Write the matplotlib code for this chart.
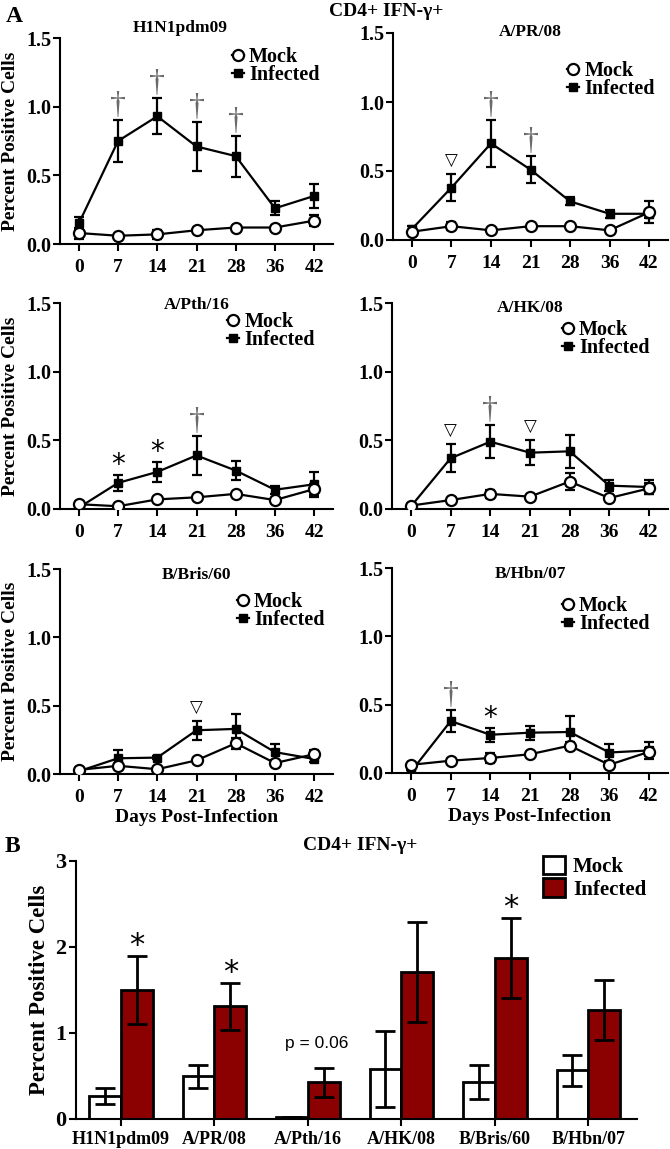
import matplotlib
matplotlib.use("Agg")
import matplotlib.pyplot as plt
from matplotlib.lines import Line2D
from matplotlib.patches import Patch
import numpy as np

# ---------------- data ----------------
days = ['0', '7', '14', '21', '28', '36', '42']
panel_names = ['H1N1pdm09', 'A/PR/08', 'A/Pth/16', 'A/HK/08', 'B/Bris/60', 'B/Hbn/07']

infected = [
    [0.15, 0.75, 0.93, 0.71, 0.64, 0.26, 0.35],
    [0.08, 0.38, 0.70, 0.51, 0.28, 0.19, 0.19],
    [0.01, 0.19, 0.27, 0.39, 0.28, 0.14, 0.18],
    [0.02, 0.37, 0.49, 0.41, 0.42, 0.17, 0.16],
    [0.02, 0.115, 0.12, 0.32, 0.33, 0.16, 0.11],
    [0.01, 0.38, 0.28, 0.295, 0.30, 0.15, 0.165],
]
infected_err = [
    [0.05, 0.15, 0.13, 0.18, 0.15, 0.05, 0.09],
    [0.02, 0.10, 0.17, 0.10, 0.03, 0.03, 0.03],
    [0.01, 0.06, 0.07, 0.14, 0.07, 0.03, 0.09],
    [0.01, 0.10, 0.12, 0.09, 0.12, 0.04, 0.05],
    [0.01, 0.06, 0.01, 0.07, 0.11, 0.06, 0.02],
    [0.01, 0.08, 0.05, 0.05, 0.12, 0.06, 0.06],
]
mock = [
    [0.08, 0.06, 0.07, 0.10, 0.12, 0.12, 0.17],
    [0.06, 0.10, 0.07, 0.10, 0.10, 0.07, 0.20],
    [0.035, 0.02, 0.07, 0.085, 0.11, 0.065, 0.145],
    [0.025, 0.065, 0.11, 0.09, 0.20, 0.08, 0.15],
    [0.03, 0.06, 0.035, 0.10, 0.225, 0.08, 0.145],
    [0.06, 0.09, 0.11, 0.137, 0.20, 0.06, 0.155],
]
mock_err = [
    [0.04, 0.01, 0.03, 0.01, 0.01, 0.01, 0.04],
    [0.01, 0.03, 0.01, 0.01, 0.01, 0.01, 0.08],
    [0.01, 0.01, 0.01, 0.01, 0.01, 0.01, 0.04],
    [0.01, 0.01, 0.03, 0.01, 0.06, 0.01, 0.04],
    [0.01, 0.01, 0.01, 0.01, 0.04, 0.01, 0.03],
    [0.01, 0.01, 0.04, 0.01, 0.03, 0.01, 0.03],
]
# significance marks per panel: day index -> symbol
sig_marks = [
    {1: '†', 2: '†', 3: '†', 4: '†'},
    {1: '▽', 2: '†', 3: '†'},
    {1: '*', 2: '*', 3: '†'},
    {1: '▽', 2: '†', 3: '▽'},
    {3: '▽'},
    {1: '†', 2: '*'},
]

strains = ['H1N1pdm09', 'A/PR/08', 'A/Pth/16', 'A/HK/08', 'B/Bris/60', 'B/Hbn/07']
mock_total = [0.27, 0.495, 0.025, 0.58, 0.43, 0.565]
mock_total_err = [0.09, 0.13, 0.0, 0.445, 0.20, 0.18]
inf_total = [1.50, 1.31, 0.425, 1.71, 1.875, 1.265]
inf_total_err = [0.40, 0.27, 0.17, 0.58, 0.465, 0.35]
bar_marks = ['*', '*', 'p = 0.06', '', '*', '']

# ---------------- style ----------------
SERIF = 'Liberation Serif'
plt.rcParams['font.family'] = [SERIF, 'DejaVu Serif']
plt.rcParams['font.weight'] = 'bold'
W, H = 670, 1149
fig = plt.figure(figsize=(W / 100, H / 100), dpi=100)


def rect(l, r, b, t):
    return [l / W, 1 - b / H, (r - l) / W, (b - t) / H]


line_rects = [rect(60, 333, 244, 38), rect(393, 668, 240, 33),
              rect(60, 333, 509, 303), rect(392, 668, 509, 303),
              rect(60, 333, 774, 569), rect(392, 668, 773, 568)]
title_pos = [(0.44, 1.05), (0.5, 1.005), (0.5, 0.99), (0.5, 0.976), (0.5, 0.97), (0.5, 0.97)]
legend_anchor = [(0.630, 0.866), (0.633, 0.773), (0.612, 0.866),
                 (0.616, 0.825), (0.648, 0.795), (0.616, 0.770)]

x = np.arange(len(days))
for i, name in enumerate(panel_names):
    ax = fig.add_axes(line_rects[i])
    inf = np.array(infected[i]); ie = np.array(infected_err[i])
    mo = np.array(mock[i]); me = np.array(mock_err[i])
    ax.errorbar(x, inf, yerr=ie, color='black', lw=1.6, marker='s', ms=5.5,
                mfc='black', mec='black', capsize=3.5, elinewidth=1.6, capthick=1.6, zorder=3)
    ax.errorbar(x, mo, yerr=me, color='black', lw=1.6, marker='o', ms=8,
                mfc='white', mec='black', mew=1.6, capsize=3.5, elinewidth=1.6,
                capthick=1.6, zorder=4)
    ax.set_xlim(-0.48, 6.48)
    ax.set_ylim(0, 1.5)
    ax.set_yticks([0, 0.5, 1.0, 1.5])
    ax.set_yticklabels(['0.0', '0.5', '1.0', '1.5'])
    ax.set_xticks(x)
    ax.set_xticklabels(days)
    for s in ['top', 'right']:
        ax.spines[s].set_visible(False)
    for s in ['left', 'bottom']:
        ax.spines[s].set_linewidth(1.5)
    ax.tick_params(axis='both', direction='out', length=5, width=1.5)
    ax.tick_params(axis='y', labelsize=14.5, pad=1)
    ax.tick_params(axis='x', labelsize=14, pad=6)
    for lab in ax.get_xticklabels() + ax.get_yticklabels():
        lab.set_fontweight('bold')
    ax.text(title_pos[i][0], title_pos[i][1], name, transform=ax.transAxes,
            ha='center', va='center', fontsize=12.5, fontweight='bold')
    if i % 2 == 0:
        ax.set_ylabel('Percent Positive Cells', fontsize=14, fontweight='bold')
        ax.yaxis.set_label_coords(-0.152, 0.5)
    if i >= 4:
        ax.set_xlabel('Days Post-Infection', fontsize=14, fontweight='bold', labelpad=2)
    handles = [Line2D([], [], color='black', lw=1.6, marker='o', ms=8, mfc='white', mew=1.6),
               Line2D([], [], color='black', lw=1.6, marker='s', ms=5.5, mfc='black')]
    ax.legend(handles, ['Mock', 'Infected'], loc='center left',
              bbox_to_anchor=legend_anchor[i], frameon=False, borderpad=0,
              borderaxespad=0, handlelength=0.6, handletextpad=0.25,
              labelspacing=-0.1, prop={'family': SERIF, 'weight': 'bold', 'size': 14.5})
    for d, sym in sig_marks[i].items():
        top = max(inf[d] + ie[d], mo[d] + me[d])
        if sym == '†':
            ax.annotate(sym, (x[d], top), xytext=(0, 0), textcoords='offset points',
                        ha='center', va='bottom', fontsize=23, color='#6a6a6a',
                        family=SERIF, fontweight='normal')
        elif sym == '▽':
            ax.annotate(sym, (x[d], top), xytext=(0, 9.5), textcoords='offset points',
                        ha='center', va='center', fontsize=12, color='black',
                        family='DejaVu Sans', fontweight='normal')
        else:
            ax.annotate(sym, (x[d], top), xytext=(0, 1.5), textcoords='offset points',
                        ha='center', va='baseline', fontsize=20, color='black',
                        family='DejaVu Sans', fontweight='normal')

# ---------------- panel B ----------------
axb = fig.add_axes(rect(76, 637, 1119, 861))
xb = np.arange(len(strains))
bw = 0.34
axb.bar(xb - bw / 2, mock_total, bw, color='white', edgecolor='black', lw=2, zorder=2)
axb.bar(xb + bw / 2, inf_total, bw, color='#8b0000', edgecolor='black', lw=2, zorder=2)
axb.errorbar(xb - bw / 2, mock_total, yerr=mock_total_err, fmt='none', ecolor='black',
             elinewidth=2, capsize=7, capthick=2, zorder=3)
axb.errorbar(xb + bw / 2, inf_total, yerr=inf_total_err, fmt='none', ecolor='black',
             elinewidth=2, capsize=7, capthick=2, zorder=3)
axb.set_xlim(-0.48, 5.52)
axb.set_ylim(0, 3)
axb.set_yticks([0, 1, 2, 3])
axb.set_xticks(xb)
axb.set_xticklabels(strains)
for s in ['top', 'right']:
    axb.spines[s].set_visible(False)
for s in ['left', 'bottom']:
    axb.spines[s].set_linewidth(1.5)
axb.tick_params(axis='both', direction='out', length=5, width=1.5)
axb.tick_params(axis='y', labelsize=16, pad=2)
axb.tick_params(axis='x', labelsize=13, pad=4)
for lab in axb.get_xticklabels() + axb.get_yticklabels():
    lab.set_fontweight('bold')
axb.set_ylabel('Percent Positive Cells', fontsize=16.5, fontweight='bold')
axb.yaxis.set_label_coords(-0.047, 0.5)
for k, m in enumerate(bar_marks):
    top = inf_total[k] + inf_total_err[k]
    if m == '*':
        axb.annotate(m, (xb[k] + bw / 2, top), xytext=(0, 1.5), textcoords='offset points',
                     ha='center', va='baseline', fontsize=22, family='DejaVu Sans',
                     fontweight='normal')
    elif m:
        axb.annotate(m, (xb[k] + 0.09, top), xytext=(0, 12), textcoords='offset points',
                     ha='center', va='bottom', fontsize=12.5, family='Liberation Sans',
                     fontweight='normal')
bh = [Patch(facecolor='white', edgecolor='black', lw=2),
      Patch(facecolor='#8b0000', edgecolor='black', lw=2)]
axb.legend(bh, ['Mock', 'Infected'], loc='upper left', bbox_to_anchor=(0.832, 1.02),
           frameon=False, borderpad=0, borderaxespad=0, handlelength=1.05,
           handleheight=1.0, handletextpad=0.4, labelspacing=0.05,
           prop={'family': SERIF, 'weight': 'bold', 'size': 15})

# ---------------- figure texts ----------------
fig.text(14 / W, 1 - 17 / H, 'A', fontsize=17, fontweight='bold', ha='center', va='center')
fig.text(12 / W, 1 - 847 / H, 'B', fontsize=17, fontweight='bold', ha='center', va='center')
fig.text(386 / W, 1 - 12 / H, 'CD4+ IFN-γ+', fontsize=14, fontweight='bold',
         ha='center', va='center')
fig.text(360 / W, 1 - 845 / H, 'CD4+ IFN-γ+', fontsize=14, fontweight='bold',
         ha='center', va='center')

fig.savefig('out.png', dpi=100)
